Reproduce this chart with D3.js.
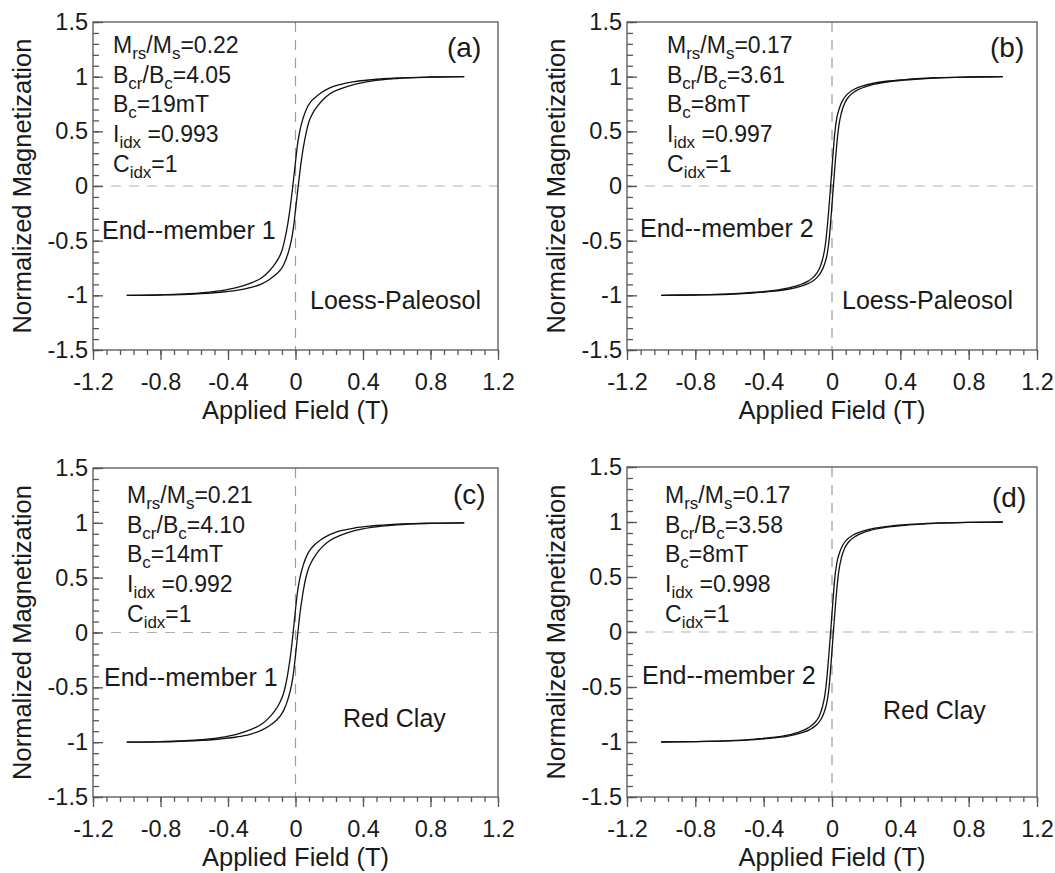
<!DOCTYPE html>
<html>
<head>
<meta charset="utf-8">
<script src="https://cdn.jsdelivr.net/npm/d3@7"></script>
<style>
  body { margin: 0; background: #fff; }
  svg text { font-family: Arial, "Liberation Sans", sans-serif; fill: #1a1a1a; }
</style>
</head>
<body>
<svg id="chart" width="1055" height="873"></svg>
<script>
// ---- tick labels ----
var xTicks = [-1.2, -0.8, -0.4, 0, 0.4, 0.8, 1.2];
var xTickLabels = ["-1.2", "-0.8", "-0.4", "0", "0.4", "0.8", "1.2"];
var yTicks = [-1.5, -1, -0.5, 0, 0.5, 1, 1.5];
var yTickLabels = ["-1.5", "-1", "-0.5", "0", "0.5", "1", "1.5"];

// ---- loop statistics (text) ----
var panelLetters = ["(a)", "(b)", "(c)", "(d)"];
var mrsMs = ["0.22", "0.17", "0.21", "0.17"];
var bcrBc = ["4.05", "3.61", "4.10", "3.58"];
var bcValues = ["19mT", "8mT", "14mT", "8mT"];
var iIdx = ["0.993", "0.997", "0.992", "0.998"];
var cIdx = ["1", "1", "1", "1"];
var members = ["End--member 1", "End--member 2", "End--member 1", "End--member 2"];
var sites = ["Loess-Paleosol", "Loess-Paleosol", "Red Clay", "Red Clay"];

// ---- hysteresis branches [field (T), normalized M] ----
var upperA = [[-1, -1], [-0.8, -0.995], [-0.6, -0.983], [-0.45, -0.96], [-0.35, -0.93],
  [-0.27, -0.89], [-0.2, -0.84], [-0.17, -0.8], [-0.13, -0.73], [-0.1, -0.66], [-0.08, -0.59],
  [-0.065, -0.5], [-0.045, -0.34], [-0.03, -0.18], [-0.016, 0], [0, 0.22], [0.012, 0.38],
  [0.025, 0.5], [0.045, 0.62], [0.07, 0.72], [0.09, 0.77], [0.11, 0.8], [0.15, 0.85],
  [0.2, 0.895], [0.27, 0.93], [0.35, 0.955], [0.45, 0.972], [0.6, 0.988], [0.8, 0.997], [1, 1]];
var lowerA = [[-1, -1], [-0.8, -0.997], [-0.6, -0.988], [-0.45, -0.972], [-0.35, -0.955],
  [-0.27, -0.93], [-0.2, -0.895], [-0.15, -0.85], [-0.11, -0.8], [-0.09, -0.77], [-0.07, -0.72],
  [-0.045, -0.62], [-0.025, -0.5], [-0.012, -0.38], [0, -0.22], [0.016, 0], [0.03, 0.18],
  [0.045, 0.34], [0.065, 0.5], [0.08, 0.59], [0.1, 0.66], [0.13, 0.73], [0.17, 0.8],
  [0.2, 0.84], [0.27, 0.89], [0.35, 0.93], [0.45, 0.96], [0.6, 0.983], [0.8, 0.995], [1, 1]];

var upperB = [[-1, -1], [-0.8, -0.996], [-0.6, -0.987], [-0.45, -0.972], [-0.35, -0.958],
  [-0.26, -0.935], [-0.19, -0.905], [-0.14, -0.87], [-0.1, -0.82], [-0.075, -0.76],
  [-0.055, -0.67], [-0.04, -0.55], [-0.028, -0.38], [-0.018, -0.2], [-0.008, 0], [0, 0.17],
  [0.008, 0.33], [0.016, 0.48], [0.028, 0.62], [0.045, 0.72], [0.065, 0.79], [0.09, 0.84],
  [0.13, 0.885], [0.18, 0.915], [0.25, 0.942], [0.34, 0.962], [0.45, 0.977], [0.6, 0.99],
  [0.8, 0.997], [1, 1]];
var lowerB = [[-1, -1], [-0.8, -0.997], [-0.6, -0.99], [-0.45, -0.977], [-0.34, -0.962],
  [-0.25, -0.942], [-0.18, -0.915], [-0.13, -0.885], [-0.09, -0.84], [-0.065, -0.79],
  [-0.045, -0.72], [-0.028, -0.62], [-0.016, -0.48], [-0.008, -0.33], [0, -0.17], [0.008, 0],
  [0.018, 0.2], [0.028, 0.38], [0.04, 0.55], [0.055, 0.67], [0.075, 0.76], [0.1, 0.82],
  [0.14, 0.87], [0.19, 0.905], [0.26, 0.935], [0.35, 0.958], [0.45, 0.972], [0.6, 0.987],
  [0.8, 0.996], [1, 1]];

var upperC = [[-1, -1], [-0.8, -0.995], [-0.6, -0.982], [-0.45, -0.958], [-0.35, -0.928],
  [-0.27, -0.888], [-0.2, -0.835], [-0.165, -0.79], [-0.125, -0.72], [-0.095, -0.645],
  [-0.075, -0.575], [-0.06, -0.49], [-0.042, -0.34], [-0.027, -0.18], [-0.014, 0], [0, 0.21],
  [0.012, 0.37], [0.025, 0.49], [0.045, 0.61], [0.07, 0.71], [0.09, 0.76], [0.11, 0.795],
  [0.15, 0.845], [0.2, 0.89], [0.27, 0.928], [0.35, 0.953], [0.45, 0.971], [0.6, 0.987],
  [0.8, 0.997], [1, 1]];
var lowerC = [[-1, -1], [-0.8, -0.997], [-0.6, -0.987], [-0.45, -0.971], [-0.35, -0.953],
  [-0.27, -0.928], [-0.2, -0.89], [-0.15, -0.845], [-0.11, -0.795], [-0.09, -0.76],
  [-0.07, -0.71], [-0.045, -0.61], [-0.025, -0.49], [-0.012, -0.37], [0, -0.21], [0.014, 0],
  [0.027, 0.18], [0.042, 0.34], [0.06, 0.49], [0.075, 0.575], [0.095, 0.645], [0.125, 0.72],
  [0.165, 0.79], [0.2, 0.835], [0.27, 0.888], [0.35, 0.928], [0.45, 0.958], [0.6, 0.982],
  [0.8, 0.995], [1, 1]];

var upperD = [[-1, -1], [-0.8, -0.996], [-0.6, -0.988], [-0.45, -0.973], [-0.35, -0.959],
  [-0.26, -0.937], [-0.19, -0.907], [-0.14, -0.872], [-0.1, -0.823], [-0.075, -0.765],
  [-0.055, -0.675], [-0.04, -0.555], [-0.028, -0.385], [-0.018, -0.2], [-0.008, 0], [0, 0.17],
  [0.008, 0.335], [0.016, 0.485], [0.028, 0.625], [0.045, 0.725], [0.065, 0.795], [0.09, 0.843],
  [0.13, 0.887], [0.18, 0.917], [0.25, 0.944], [0.34, 0.963], [0.45, 0.978], [0.6, 0.99],
  [0.8, 0.997], [1, 1]];
var lowerD = [[-1, -1], [-0.8, -0.997], [-0.6, -0.99], [-0.45, -0.978], [-0.34, -0.963],
  [-0.25, -0.944], [-0.18, -0.917], [-0.13, -0.887], [-0.09, -0.843], [-0.065, -0.795],
  [-0.045, -0.725], [-0.028, -0.625], [-0.016, -0.485], [-0.008, -0.335], [0, -0.17], [0.008, 0],
  [0.018, 0.2], [0.028, 0.385], [0.04, 0.555], [0.055, 0.675], [0.075, 0.765], [0.1, 0.823],
  [0.14, 0.872], [0.19, 0.907], [0.26, 0.937], [0.35, 0.959], [0.45, 0.973], [0.6, 0.988],
  [0.8, 0.996], [1, 1]];

var branches = [[upperA, lowerA], [upperB, lowerB], [upperC, lowerC], [upperD, lowerD]];

// ---- layout: frame boxes and text offsets (baselines, from the frame's top-left) ----
var boxes = [
  { left: 93, right: 498, top: 22, bottom: 350, statX: 20, statY: 31, memX: 9, memY: 217, siteX: 217, siteY: 287, letX: 354, letY: 35 },
  { left: 627, right: 1037, top: 22, bottom: 350, statX: 40, statY: 31, memX: 13, memY: 215, siteX: 215, siteY: 287, letX: 363, letY: 35 },
  { left: 93, right: 498, top: 468, bottom: 797, statX: 34, statY: 35, memX: 11, memY: 218, siteX: 250, siteY: 259, letX: 360, letY: 36 },
  { left: 627, right: 1037, top: 467, bottom: 797, statX: 38, statY: 36, memX: 15, memY: 217, siteX: 256, siteY: 252, letX: 365, letY: 40 }
];

var svg = d3.select("#chart");
var axisColor = "#555";
var dashColor = "#9a9a9a";

function minorValues(lo, hi, step) {
  var n = Math.round((hi - lo) / step);
  return d3.range(n + 1).map(function(i){ return lo + i * step; });
}

boxes.forEach(function(b, k){
  var x = d3.scaleLinear().domain([-1.2, 1.2]).range([b.left, b.right]);
  var y = d3.scaleLinear().domain([-1.5, 1.5]).range([b.bottom, b.top]);
  var g = svg.append("g");

  // zero lines
  g.append("line")
    .attr("x1", x(0)).attr("x2", x(0))
    .attr("y1", y(1.5)).attr("y2", y(-1.5))
    .attr("stroke", dashColor).attr("stroke-width", 1.2)
    .attr("stroke-dasharray", "10,8");
  g.append("line")
    .attr("x1", x(-1.2)).attr("x2", x(1.2))
    .attr("y1", y(0)).attr("y2", y(0))
    .attr("stroke", "#b0b0b0").attr("stroke-width", 1.2)
    .attr("stroke-dasharray", "10,8");

  // frame
  g.append("rect")
    .attr("x", b.left).attr("y", b.top)
    .attr("width", b.right - b.left).attr("height", b.bottom - b.top)
    .attr("fill", "none").attr("stroke", axisColor).attr("stroke-width", 1.3);

  // x axis: minor then major (ticks pointing down)
  var xMinor = g.append("g")
    .attr("transform", "translate(0," + b.bottom + ")")
    .call(d3.axisBottom(x).tickValues(minorValues(-1.2, 1.2, 0.08)).tickSize(5).tickFormat(""));
  var xMajor = g.append("g")
    .attr("transform", "translate(0," + b.bottom + ")")
    .call(d3.axisBottom(x).tickValues(xTicks).tickSize(10).tickPadding(13)
      .tickFormat(function(d, i){ return xTickLabels[i]; }));

  // y axis: ticks pointing inward
  var yMinor = g.append("g")
    .attr("transform", "translate(" + b.left + ",0)")
    .call(d3.axisLeft(y).tickValues(minorValues(-1.5, 1.5, 0.1)).tickSize(-6).tickFormat(""));
  var yMajor = g.append("g")
    .attr("transform", "translate(" + b.left + ",0)")
    .call(d3.axisLeft(y).tickValues(yTicks).tickSize(-10).tickPadding(5)
      .tickFormat(function(d, i){ return yTickLabels[i]; }));

  [xMinor, xMajor, yMinor, yMajor].forEach(function(a){
    a.select(".domain").remove();
    a.selectAll(".tick line").attr("stroke", axisColor).attr("stroke-width", 1.3);
    a.selectAll(".tick text").attr("font-size", 23.5).attr("fill", "#1a1a1a")
      .style("font-family", "Arial, 'Liberation Sans', sans-serif");
  });

  // axis titles
  g.append("text")
    .attr("x", (b.left + b.right) / 2).attr("y", b.bottom + 69)
    .attr("text-anchor", "middle").attr("font-size", 25.5)
    .text("Applied Field (T)");
  g.append("text")
    .attr("transform", "translate(" + (b.left - 62) + "," + ((b.top + b.bottom) / 2) + ") rotate(-90)")
    .attr("text-anchor", "middle").attr("font-size", 25.5)
    .text("Normalized Magnetization");

  // loop curves
  var line = d3.line()
    .x(function(d){ return x(d[0]); })
    .y(function(d){ return y(d[1]); })
    .curve(d3.curveMonotoneX);
  branches[k].forEach(function(br){
    g.append("path")
      .attr("d", line(br))
      .attr("fill", "none").attr("stroke", "#111").attr("stroke-width", 1.3);
  });

  // statistics block with subscripts
  var stats = [
    [["M", 0], ["rs", 1], ["/M", 0], ["s", 1], ["=" + mrsMs[k], 0]],
    [["B", 0], ["cr", 1], ["/B", 0], ["c", 1], ["=" + bcrBc[k], 0]],
    [["B", 0], ["c", 1], ["=" + bcValues[k], 0]],
    [["I", 0], ["idx", 1], [" =" + iIdx[k], 0]],
    [["C", 0], ["idx", 1], ["=" + cIdx[k], 0]]
  ];
  stats.forEach(function(parts, li){
    var t = g.append("text")
      .attr("x", b.left + b.statX)
      .attr("y", b.top + b.statY + li * 29.7)
      .attr("font-size", 23)
      .attr("xml:space", "preserve");
    var shifted = 0;
    parts.forEach(function(p){
      var dy = p[1] ? 6 - shifted : -shifted;
      shifted = p[1] ? 6 : 0;
      t.append("tspan")
        .attr("dy", dy)
        .attr("font-size", p[1] ? 17 : 23)
        .text(p[0]);
    });
  });

  g.append("text")
    .attr("x", b.left + b.memX).attr("y", b.top + b.memY)
    .attr("font-size", 25).text(members[k]);
  g.append("text")
    .attr("x", b.left + b.siteX).attr("y", b.top + b.siteY)
    .attr("font-size", 25).text(sites[k]);
  g.append("text")
    .attr("x", b.left + b.letX).attr("y", b.top + b.letY)
    .attr("font-size", 28).text(panelLetters[k]);
});
</script>
</body>
</html>
